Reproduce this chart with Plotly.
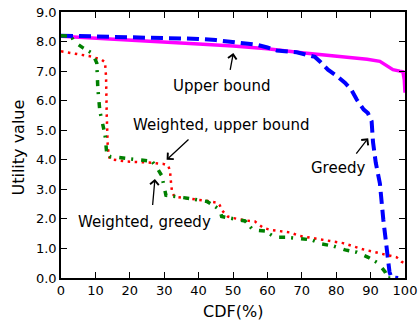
import plotly.graph_objects as go

# Upper bound (magenta solid)
ub_x = [0, 10, 20, 30, 40, 50, 60, 70, 80, 85, 89, 92.7, 95, 96.5, 98.5, 99.4, 99.8, 100]
ub_y = [8.18, 8.12, 8.05, 7.98, 7.92, 7.85, 7.76, 7.62, 7.5, 7.46, 7.4, 7.33, 7.16, 7.05, 7.0, 6.98, 6.7, 6.27]

# Greedy (blue dashed)
gr_x = [0, 10, 20, 30, 40, 45, 50, 57, 60, 62.7, 68.5, 72, 73.8, 75.5, 77.6, 80, 82.6, 84.5,
        86, 88, 89.2, 90.3, 90.7, 91.5, 92.7, 93.7, 95, 95.5, 96, 98]
gr_y = [8.2, 8.18, 8.16, 8.13, 8.09, 8.05, 7.98, 7.89, 7.8, 7.7, 7.64, 7.55, 7.48, 7.3, 7.05, 6.85, 6.6, 6.35,
        6.03, 5.7, 5.58, 5.3, 4.6, 3.9, 3.2, 1.97, 0.6, 0.2, 0.03, 0.0]

# Weighted, upper bound (red dotted)
wu_x = [0, 3, 6, 8.4, 11.8, 12.8, 13.1, 13.3, 13.6, 14.2, 19, 24.9, 29.7, 31.2, 31.7, 32, 32.3, 33,
        38.5, 42.4, 45.6, 46.2, 46.7, 48.5, 50, 52.9, 56.4, 58.8, 60.8, 63.7, 66.6, 69.5, 75.8, 82,
        87.8, 93.6, 97.6, 99, 100]
wu_y = [7.67, 7.6, 7.55, 7.5, 7.39, 7.3, 6.8, 5.5, 4.4, 4.02, 3.94, 3.91, 3.86, 3.8, 3.6, 3.2, 2.9, 2.75,
        2.68, 2.61, 2.54, 2.45, 2.3, 2.08, 2.03, 1.96, 1.91, 1.7, 1.63, 1.59, 1.54, 1.42, 1.31, 1.18,
        0.97, 0.81, 0.7, 0.55, 0.5]

# Weighted, greedy (green dash-dot)
wg_x = [0, 3, 3.8, 6.5, 9.2, 10.4, 10.7, 11, 11.3, 12.8, 13.3, 14.2, 21, 24.4, 26.5, 27.3, 27.8, 29.3,
        30, 30.5, 35.6, 42.4, 44.8, 46.2, 46.7, 50, 53.5, 55.8, 59.3, 62.2, 65.6, 72.9, 75.8, 79.2,
        82.6, 86, 89.3, 92.2, 94.2, 95, 96]
wg_y = [8.2, 8.18, 8.0, 7.78, 7.6, 7.27, 6.43, 6.03, 5.64, 4.85, 4.2, 4.11, 4.02, 4.0, 3.95, 3.8, 3.75, 3.46,
        3.04, 2.8, 2.72, 2.59, 2.42, 2.3, 2.08, 2.02, 1.93, 1.63, 1.59, 1.38, 1.38, 1.29, 1.15, 1.08,
        0.95, 0.87, 0.7, 0.5, 0.21, 0.0, 0.0]

x_ticks = [0, 10, 20, 30, 40, 50, 60, 70, 80, 90, 100]
y_ticks = [0, 1, 2, 3, 4, 5, 6, 7, 8, 9]

# annotations: (text, text_x, text_y, head_x, head_y, tail_x, tail_y)
labels = [
    ("Upper bound", 46.7, 6.51, 50.1, 7.61, 49.1, 6.99),
    ("Weighted, upper bound", 46.8, 5.18, 30.7, 4.0, 37.5, 4.73),
    ("Weighted, greedy", 24.4, 1.91, 27.3, 3.35, 26.6, 2.42),
    ("Greedy", 80.4, 3.72, 89.3, 4.73, 85.5, 4.16),
]

FONT = "DejaVu Sans"
W, H = 419, 320
ML, MR, MT, MB = 61, 14, 12, 42
PW, PH = W - ML - MR, H - MT - MB

fig = go.Figure()
fig.add_trace(go.Scatter(x=ub_x, y=ub_y, mode="lines",
                         line=dict(color="#ff00ff", width=3.5)))
fig.add_trace(go.Scatter(x=gr_x, y=gr_y, mode="lines",
                         line=dict(color="#0000ff", width=4, dash="12px,6px")))
fig.add_trace(go.Scatter(x=wu_x, y=wu_y, mode="lines",
                         line=dict(color="#ff0000", width=2.5, dash="2.5px,4.5px")))
fig.add_trace(go.Scatter(x=wg_x, y=wg_y, mode="lines",
                         line=dict(color="#008000", width=3.5, dash="6px,6px,2px,8px")))

for text, tx, ty, hx, hy, ax, ay in labels:
    fig.add_annotation(x=tx, y=ty, xref="x", yref="y", text=text, showarrow=False,
                       font=dict(family=FONT, size=15, color="black"))
    fig.add_annotation(x=hx, y=hy, xref="x", yref="y", ax=ax, ay=ay, axref="x", ayref="y",
                       text="", showarrow=True, arrowhead=4, arrowsize=1.3, arrowwidth=1.3,
                       arrowcolor="black")

# axis titles as annotations (page pixel targets converted to paper coords)
xt_page_y = 311.7
yt_page_x, yt_page_y = 17.5, 148
fig.add_annotation(x=0.5, y=-(xt_page_y - (H - MB)) / PH, xref="paper", yref="paper",
                   text="CDF(%)", showarrow=False, yanchor="middle",
                   font=dict(family=FONT, size=16, color="black"))
fig.add_annotation(x=-(ML - yt_page_x) / PW, y=((H - MB) - yt_page_y) / PH,
                   xref="paper", yref="paper", text="Utility value", showarrow=False,
                   textangle=-90, xanchor="center", yanchor="middle",
                   font=dict(family=FONT, size=16, color="black"))

axis_common = dict(showline=True, linewidth=1.6, linecolor="black", mirror="ticks",
                   ticks="inside", ticklen=6, tickwidth=1.2, tickcolor="black",
                   showgrid=False, zeroline=False, automargin=False,
                   ticklabeloverflow="allow",
                   tickfont=dict(family=FONT, size=13, color="black"))

fig.update_xaxes(range=[0, 100], tickvals=x_ticks, **axis_common)
fig.update_yaxes(range=[0, 9], tickvals=y_ticks, tickformat=".1f", **axis_common)

fig.update_layout(width=W, height=H, showlegend=False,
                  margin=dict(l=ML, r=MR, t=MT, b=MB),
                  plot_bgcolor="white", paper_bgcolor="white")

fig.write_html("out.html", config={"displayModeBar": False},
               post_script="document.body.style.margin='0';document.body.style.overflow='hidden';")
